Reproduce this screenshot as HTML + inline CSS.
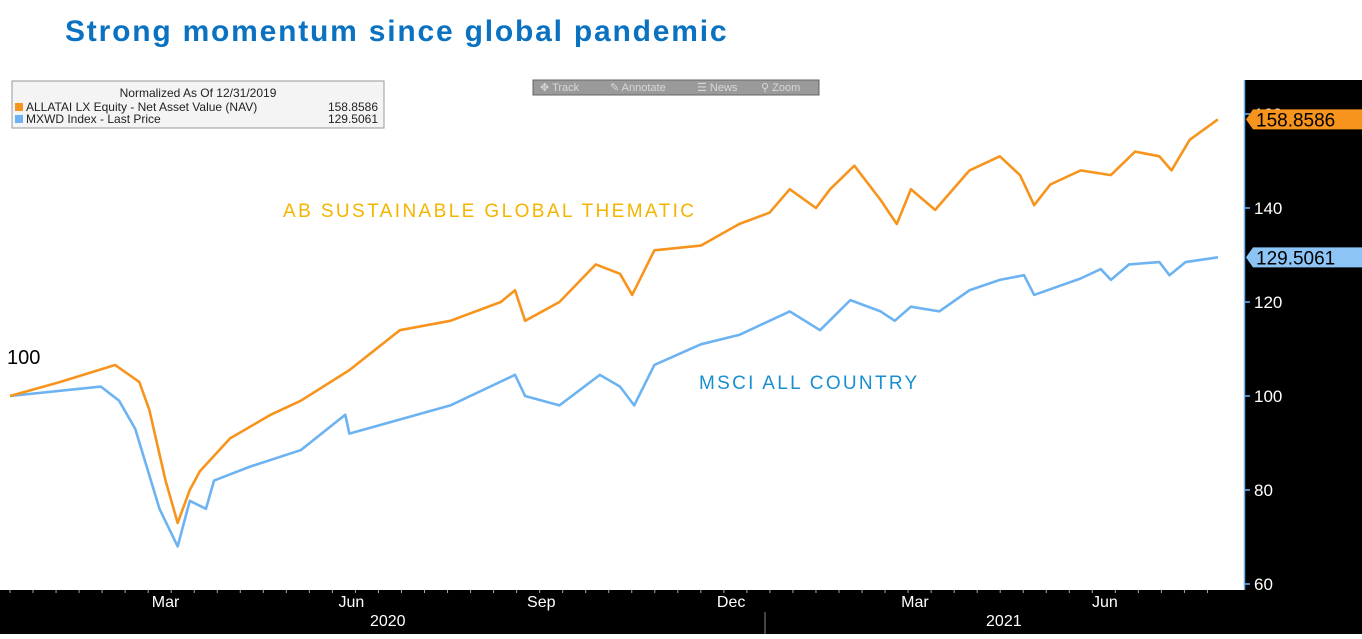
<!DOCTYPE html>
<html><head><meta charset="utf-8"><style>
body{margin:0;width:1362px;height:634px;overflow:hidden;background:#fff;font-family:"Liberation Sans",sans-serif}
</style></head><body>
<svg width="1362" height="634" xmlns="http://www.w3.org/2000/svg">
<text x="65" y="41" font-size="30" font-weight="bold" letter-spacing="1.8" fill="#0a72c0">Strong momentum since global pandemic</text>
<rect x="1244" y="80" width="118" height="554" fill="#000"/>
<rect x="0" y="590" width="1362" height="44" fill="#000"/>
<line x1="1244.5" y1="80" x2="1244.5" y2="590" stroke="#6db3f2" stroke-width="1.5"/>
<line x1="765" y1="612" x2="765" y2="634" stroke="#888"/>
<g id="yaxis"></g><g id="xaxis"></g>
<g id="series"></g>
<g>
<rect x="12" y="81" width="372" height="47" fill="#f4f4f4" stroke="#999"/>
<text x="198" y="97" font-size="12" text-anchor="middle" fill="#222">Normalized As Of 12/31/2019</text>
<rect x="15" y="103" width="8" height="8" fill="#f7941d"/>
<text x="26" y="111" font-size="12" fill="#222">ALLATAI LX Equity - Net Asset Value (NAV)</text>
<text x="378" y="111" font-size="12" text-anchor="end" fill="#222">158.8586</text>
<rect x="15" y="115" width="8" height="8" fill="#6db3f2"/>
<text x="26" y="123" font-size="12" fill="#222">MXWD Index - Last Price</text>
<text x="378" y="123" font-size="12" text-anchor="end" fill="#222">129.5061</text>
</g>
<g>
<rect x="533" y="80" width="286" height="15" fill="#9a9a9a" stroke="#666"/>
<text x="540" y="91" font-size="11" fill="#d8d8d8">✥ Track</text>
<text x="610" y="91" font-size="11" fill="#d8d8d8">✎ Annotate</text>
<text x="697" y="91" font-size="11" fill="#d8d8d8">☰ News</text>
<text x="761" y="91" font-size="11" fill="#d8d8d8">⚲ Zoom</text>
</g>
<text x="283" y="217" font-size="19" letter-spacing="2.4" fill="#f5b400">AB SUSTAINABLE GLOBAL THEMATIC</text>
<text x="699" y="389" font-size="19" letter-spacing="2.3" fill="#1a8fd0">MSCI ALL COUNTRY</text>
<text x="7" y="364" font-size="20" fill="#000">100</text>
<g id="tags"></g>
</svg>
<script>
const yTicks=[60,80,100,120,140,160];
const monthLabels=["Mar","Jun","Sep","Dec","Mar","Jun"];
const monthDays=[77,169,263,357,448,542];
const yearLabels=["2020","2021"];
const yearDays=[187,492];
const abDays=[0,25,52,64,69,77,83,89,94,109,129,144,168,193,218,243,250,255,272,290,302,308,319,342,361,376,386,399,406,418,431,439,446,458,475,490,500,507,515,530,545,557,569,575,584,598];
const abValues=[100,103,106.6,103,97,82,73,80,84,91,96,99,105.5,114,116,120,122.5,116,120,128,126,121.5,131,132,136.6,139,144,140,144,149,141.7,136.6,144,139.6,148,151,147,140.6,145,148,147,152,151,148,154.5,158.8586];
const msciDays=[0,45,54,62,74,83,89,97,101,119,144,163,166,168,193,218,250,255,272,292,302,309,319,342,361,386,401,416,431,438,446,460,475,490,502,507,530,540,545,554,569,574,582,598];
const msciValues=[100,102,99,93,76,68,77.7,76,82,85,88.5,95,96,92,95,98,104.5,100,98,104.5,102,98,106.6,111,113,118,114,120.4,118,116,119,118,122.5,124.7,125.7,121.5,125,127,124.7,128,128.5,125.7,128.5,129.5061];
const lastValues=[158.8586,129.5061];
const NS="http://www.w3.org/2000/svg";
const xS=d=>10+d*2.02;
const yS=v=>396-(v-100)*4.7;
function mk(t,a,p){const e=document.createElementNS(NS,t);for(const k in a)e.setAttribute(k,a[k]);p.appendChild(e);return e;}
const ya=document.getElementById('yaxis');
yTicks.forEach(v=>{
 const l=mk('line',{x1:1244,x2:1250,y1:yS(v),y2:yS(v),stroke:'#6db3f2','stroke-width':1.5},ya);
 
 
 const t=mk('text',{x:1254,y:yS(v)+6,'font-size':17,fill:'#fff'},ya);t.textContent=v;
 
 
});
const xa=document.getElementById('xaxis');
for(let d=0;d<600;d+=11.4){const l=mk('line',{x1:xS(d),x2:xS(d),y1:590,y2:593,stroke:'#aaa'},xa);
 
 }
monthLabels.forEach((m,i)=>{const t=mk('text',{x:xS(monthDays[i]),y:607,'font-size':16,fill:'#fff','text-anchor':'middle'},xa);t.textContent=m;
 
 });
yearLabels.forEach((m,i)=>{const t=mk('text',{x:xS(yearDays[i]),y:626,'font-size':16,fill:'#fff','text-anchor':'middle'},xa);t.textContent=m;
 
 });
const sg=document.getElementById('series');
function line(days,vals,col,name){const p=mk('polyline',{points:days.map((d,i)=>xS(d)+','+yS(vals[i])).join(' '),fill:'none',stroke:col,'stroke-width':2.6,'stroke-linejoin':'round'},sg);
 
 }
line(msciDays,msciValues,'#6db3f2','msci-line');
line(abDays,abValues,'#f7941d','ab-line');
const tg=document.getElementById('tags');
[['#f7941d','ab-last-value-tag'],['#8cc4f5','msci-last-value-tag']].forEach((c,i)=>{
 const y=yS(lastValues[i]);
 const p=mk('polygon',{points:`1246,${y} 1253,${y-10} 1362,${y-10} 1362,${y+10} 1253,${y+10}`,fill:c[0]},tg);
 
 
 const t=mk('text',{x:1256,y:y+7,'font-size':19,fill:'#000'},tg);t.textContent=lastValues[i].toFixed(4);
});
</script>
</body></html>
